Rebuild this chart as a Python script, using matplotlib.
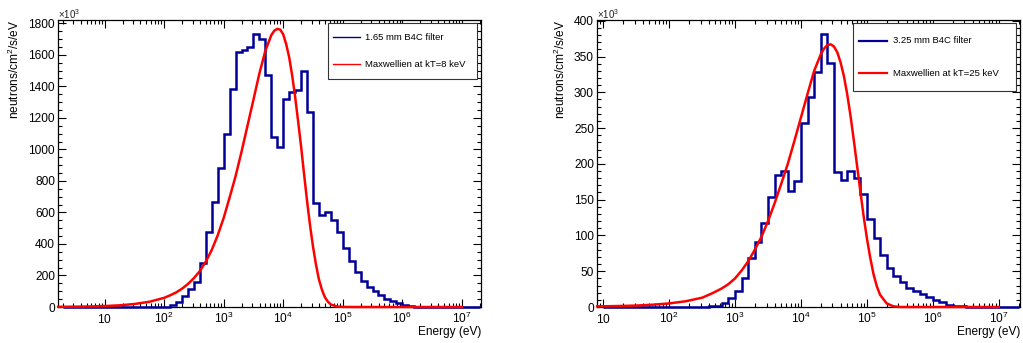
import numpy as np
import matplotlib
matplotlib.use('Agg')
import matplotlib.pyplot as plt
from matplotlib.patches import Rectangle
from matplotlib.ticker import MultipleLocator, LogLocator, NullFormatter

plt.rcParams['font.family'] = ['Liberation Sans', 'DejaVu Sans']
plt.rcParams['mathtext.fontset'] = 'custom'
plt.rcParams['mathtext.rm'] = 'Liberation Sans'
plt.rcParams['mathtext.default'] = 'regular'

# Data, flux in units of 10^3 neutrons/cm2/s/eV, bins of 0.1 decade in energy

# 1.65 mm B4C filter, first bin starts at log10(E) = 2.0
left_start = 2.0
left_counts = [3, 12, 34, 68, 112, 160, 279, 477, 665, 880,
               1096, 1382, 1618, 1628, 1650, 1734, 1703, 1470, 1079, 1016,
               1322, 1364, 1375, 1496, 1238, 659, 583, 604, 551, 477,
               374, 291, 224, 165, 129, 103, 76, 53, 40, 27,
               15, 6, 3, 1]

# 3.25 mm B4C filter, first bin starts at log10(E) = 2.5
right_start = 2.5
right_counts = [0.3, 0.8, 1.5, 5, 12, 23, 41, 68, 91, 118,
                154, 185, 190, 162, 176, 257, 293, 328, 382, 341,
                189, 178, 190, 180, 158, 123, 96, 73, 54, 43,
                35, 27, 23, 18, 14, 10, 6.5, 3, 1.5, 0.7, 0.3]

# Maxwellian curves (log10(E), flux)
maxw8_loge = [0.22, 0.5, 0.75, 1.0, 1.25, 1.5, 1.75, 2.0, 2.1, 2.2, 2.3, 2.4, 2.5, 2.6,
              2.7, 2.8, 2.9, 3.0, 3.1, 3.2, 3.3, 3.4, 3.5, 3.6, 3.7, 3.8, 3.85, 3.9,
              3.95, 4.0, 4.05, 4.1, 4.15, 4.2, 4.25, 4.3, 4.35, 4.4, 4.45, 4.5, 4.55,
              4.6, 4.65, 4.7, 4.75, 4.8, 4.9, 5.0, 5.2, 7.0]
maxw8_flux = [1, 2, 3.5, 6, 10.5, 19, 33, 58, 74, 92, 116, 146, 183, 228,
              288, 362, 455, 565, 695, 830, 985, 1150, 1315, 1482, 1625, 1725, 1753, 1765,
              1760, 1730, 1668, 1585, 1470, 1335, 1180, 1020, 845, 675, 520, 385, 270,
              175, 110, 62, 34, 16, 3, 0.5, 0, 0]

maxw25_loge = [0.91, 1.0, 1.25, 1.5, 1.75, 2.0, 2.25, 2.5, 2.65, 2.8, 2.9, 3.0, 3.1, 3.2,
               3.3, 3.4, 3.5, 3.6, 3.7, 3.8, 3.9, 4.0, 4.1, 4.2, 4.3, 4.35, 4.4, 4.45,
               4.5, 4.55, 4.6, 4.65, 4.7, 4.75, 4.8, 4.85, 4.9, 4.95, 5.0, 5.05, 5.1,
               5.15, 5.2, 5.3, 5.4, 5.5, 7.0]
maxw25_flux = [1, 1, 1.4, 2, 3.2, 5, 8, 13, 19, 26, 32, 40, 51, 64,
               80, 98, 120, 145, 172, 200, 232, 265, 298, 330, 353, 361, 366, 367,
               364, 356, 342, 323, 298, 268, 234, 198, 162, 127, 96, 69, 46,
               29, 17, 5, 1, 0, 0]

left_labels = ['1.65 mm B4C filter', 'Maxwellien at kT=8 keV']
right_labels = ['3.25 mm B4C filter', 'Maxwellien at kT=25 keV']

blue = '#000099'
red = '#ff0000'
W, H = 1023, 343


def full_hist(start, counts, lo, hi):
    # pad the measured bins with empty bins over the whole axis range
    edges = np.round(np.arange(lo, hi + 0.05, 0.1), 1)
    vals = np.zeros(len(edges) - 1)
    i0 = int(round((start - lo) * 10))
    vals[i0:i0 + len(counts)] = counts
    return 10 ** edges, vals


def dec_label(n):
    return r'$10$' if n == 1 else r'$10^{%d}$' % n


def setup(ax, xlim, ymax, ymajor, yminor, ylab_x):
    ax.set_xscale('log')
    ax.set_xlim(*xlim)
    ax.set_ylim(0, ymax)
    decs = [n for n in range(0, 8) if xlim[0] <= 10 ** n <= xlim[1]]
    ax.set_xticks([10.0 ** n for n in decs], [dec_label(n) for n in decs])
    ax.xaxis.set_minor_locator(LogLocator(base=10, subs=np.arange(2, 10), numticks=30))
    ax.xaxis.set_minor_formatter(NullFormatter())
    ax.yaxis.set_major_locator(MultipleLocator(ymajor))
    ax.yaxis.set_minor_locator(MultipleLocator(yminor))
    ax.tick_params(which='both', direction='in', top=True, right=True, width=0.8,
                   labelsize=8.6)
    ax.tick_params(which='major', length=5.8)
    ax.tick_params(which='minor', length=2.9)
    ax.tick_params(axis='x', which='major', pad=11.5)
    ax.tick_params(axis='y', which='major', pad=2.2)
    for t in ax.xaxis.get_major_ticks():
        t.label1.set_va('baseline')
    for s in ax.spines.values():
        s.set_linewidth(0.9)
    ax.set_xlabel('Energy (eV)', fontsize=8.6, loc='right')
    ax.xaxis.set_label_coords(1.0, -0.086)
    ax.xaxis.label.set_va('center')
    ax.set_ylabel(r'neutrons/cm$^{2}$/s/eV', fontsize=8.6, loc='top')
    ax.yaxis.set_label_coords(ylab_x, 1.0)
    ax.text(0.0, 1.004, r'$\times10^{3}$', transform=ax.transAxes, fontsize=7,
            ha='left', va='baseline', color='#222222')


def legend(ax, box, line_x, text_x, ys, labels, lw):
    x0, y0, x1, y1 = box
    ax.add_patch(Rectangle((x0, y0), x1 - x0, y1 - y0, transform=ax.transAxes,
                           facecolor='white', edgecolor='#333333', lw=0.8, zorder=5))
    for y, lab, c in zip(ys, labels, [blue, red]):
        ax.plot(line_x, [y, y], color=c, lw=lw, transform=ax.transAxes, zorder=6)
        ax.text(text_x, y, lab, transform=ax.transAxes, fontsize=6.8,
                ha='left', va='center', zorder=6)


fig = plt.figure(figsize=(W / 100, H / 100), dpi=100)
ax1 = fig.add_axes([58 / W, 36 / H, 423 / W, 287 / H])
ax2 = fig.add_axes([597 / W, 36 / H, 423 / W, 287 / H])

# Plot (i): 1.65 mm filter vs Maxwellian at 8 keV
edges, vals = full_hist(left_start, left_counts, 0.3, 7.3)
ax1.stairs(vals, edges, color=blue, lw=1.8, clip_on=False, zorder=3)
ax1.plot(10 ** np.array(maxw8_loge), maxw8_flux, color=red, lw=1.8, clip_on=False, zorder=4)
setup(ax1, (1.65, 2.1e7), 1821, 200, 50, -0.085)
legend(ax1, (0.638, 0.794, 0.9905, 0.9895), [0.650, 0.714], 0.726, [0.940, 0.846],
       left_labels, 1.0)

# Plot (ii): 3.25 mm filter vs Maxwellian at 25 keV
edges, vals = full_hist(right_start, right_counts, 1.0, 7.3)
ax2.stairs(vals, edges, color=blue, lw=1.8, clip_on=False, zorder=3)
ax2.plot(10 ** np.array(maxw25_loge), maxw25_flux, color=red, lw=1.8, clip_on=False, zorder=4)
setup(ax2, (8.05, 2.1e7), 401, 50, 10, -0.069)
legend(ax2, (0.605, 0.754, 0.9905, 0.9895), [0.619, 0.686], 0.700, [0.928, 0.814],
       right_labels, 1.6)

fig.savefig('out.png', dpi=100)
